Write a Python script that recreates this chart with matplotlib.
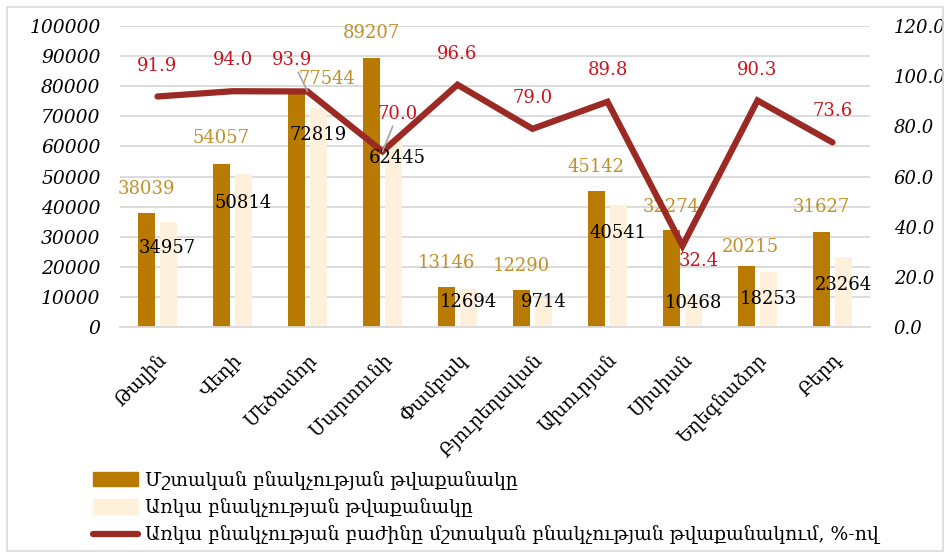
import numpy as np
import matplotlib
matplotlib.use("Agg")
import matplotlib.pyplot as plt
from matplotlib.patches import Patch, Rectangle
from matplotlib.lines import Line2D

# tvyalner
hamaynqner = ["Թալին", "Վեդի", "Մեծամոր", "Մարտունի", "Փամբակ",
              "Բյուրեղավան", "Ախուրյան", "Սիսիան", "Եղեգնաձոր", "Բերդ"]
mshtakan = [38039, 54057, 77544, 89207, 13146, 12290, 45142, 32274, 20215, 31627]
arka = [34957, 50814, 72819, 62445, 12694, 9714, 40541, 10468, 18253, 23264]
bazhin = [91.9, 94.0, 93.9, 70.0, 96.6, 79.0, 89.8, 32.4, 90.3, 73.6]

leg_mshtakan = "Մշտական բնակչության թվաքանակը"
leg_arka = "Առկա բնակչության թվաքանակը"
leg_bazhin = "Առկա բնակչության բաժինը մշտական բնակչության թվաքանակում, %-ով"

# guyner
C_MUG = "#B87A00"
C_BAC = "#FFF0DC"
C_GOLD = "#C0902A"
C_RED = "#C8141E"
C_LINE = "#9B2A24"
C_GRID = "#D9D9D9"

FONT = ["DejaVu Serif", "DejaVu Sans"]
plt.rcParams["font.family"] = FONT

# pitaki offsetner (pikselov)
gold_dx = [0, 0, 30, 0, 0, 0, 0, 0, 4, 0]
gold_dy = [-24, -26, -15, -25, -24, -24, -24, -23, -19, -25]
blk_dx = [-1, 0, 0, 4, 0, 0, 0, 0, 0, 0]
blk_dy = [26, 29, 27, 19, 13, 4, 28, 8, 27, 28]
red_dx = [0, 0, -15, 15, 0, 0, 0, 16, 0, 0]
red_dy = [-30, -31, -31, -37, -31, -31, -32, 15, -30, -31]

def px(v):
    return v * 72 / 100.0

fig = plt.figure(figsize=(9.51, 5.58), dpi=100)
ax = fig.add_axes([120 / 951, 1 - 327 / 558, 750 / 951, 301 / 558])
ax2 = ax.twinx()

x = np.arange(len(hamaynqner))
w = 0.227
sh = 0.147

ax.bar(x - sh, mshtakan, w, color=C_MUG, zorder=2)
ax.bar(x + sh, arka, w, color=C_BAC, zorder=2)
ax.set_xlim(-0.5, len(x) - 0.5)
ax.set_ylim(0, 100000)
ax.set_yticks(np.arange(0, 100001, 10000))
ax.yaxis.grid(True, color=C_GRID, lw=1.3, zorder=0)
ax.set_axisbelow(True)

ax2.plot(x, bazhin, color=C_LINE, lw=4.5, solid_capstyle="round",
         solid_joinstyle="miter", zorder=3)
ax2.set_ylim(0, 120)
ax2.set_yticks(np.arange(0, 121, 20))

for a in (ax, ax2):
    for s in a.spines.values():
        s.set_visible(False)
    a.tick_params(length=0)
ax.spines["bottom"].set_visible(True)
ax.spines["bottom"].set_color(C_GRID)
ax.spines["bottom"].set_linewidth(1.3)

ax.set_yticklabels(["%d" % v for v in ax.get_yticks()], fontsize=13.5,
                   style="italic")
ax2.set_yticklabels(["%.1f" % v for v in ax2.get_yticks()], fontsize=13,
                    style="italic")
ax.tick_params(axis="y", pad=14)
ax2.tick_params(axis="y", pad=17)

ax.set_xticks(x)
ax.set_xticklabels(hamaynqner, rotation=45, ha="right",
                   rotation_mode="anchor", fontsize=13.5)
ax.tick_params(axis="x", pad=17)

# pitakner
for i in range(len(x)):
    ax.annotate(str(mshtakan[i]), (x[i] - sh, mshtakan[i]),
                xytext=(px(gold_dx[i]), -px(gold_dy[i])),
                textcoords="offset points", ha="center", va="center",
                color=C_GOLD, fontsize=13, zorder=5)
    ax2.annotate(str(arka[i]), ax2.transData.inverted().transform(
                 ax.transData.transform((x[i] + sh, arka[i]))),
                 xytext=(px(blk_dx[i]), -px(blk_dy[i])),
                 textcoords="offset points", ha="center", va="center",
                 color="black", fontsize=13, zorder=5)
    kw = {}
    if i in (2, 3):
        kw["arrowprops"] = dict(arrowstyle="-", color="#A6A6A6", lw=1.2,
                                shrinkA=0, shrinkB=0)
    ax2.annotate("%.1f" % bazhin[i], (x[i], bazhin[i]),
                 xytext=(px(red_dx[i]), -px(red_dy[i])),
                 textcoords="offset points", ha="center", va="center",
                 color=C_RED, fontsize=13, zorder=6, **kw)

handles = [Patch(color=C_MUG), Patch(color=C_BAC),
           Line2D([0], [0], color=C_LINE, lw=4.5, solid_capstyle="round")]
fig.legend(handles, [leg_mshtakan, leg_arka, leg_bazhin],
           loc="lower left", bbox_to_anchor=(85 / 951, 6 / 558),
           frameon=False, fontsize=13.5, handlelength=2.4, handleheight=0.8,
           labelspacing=0.45, handletextpad=0.4, borderaxespad=0)

fig.add_artist(Rectangle((7 / 951, 7 / 558), 936 / 951, 544 / 558,
                         transform=fig.transFigure, fill=False,
                         ec=C_GRID, lw=1.2))

fig.savefig("out.png", dpi=100)
